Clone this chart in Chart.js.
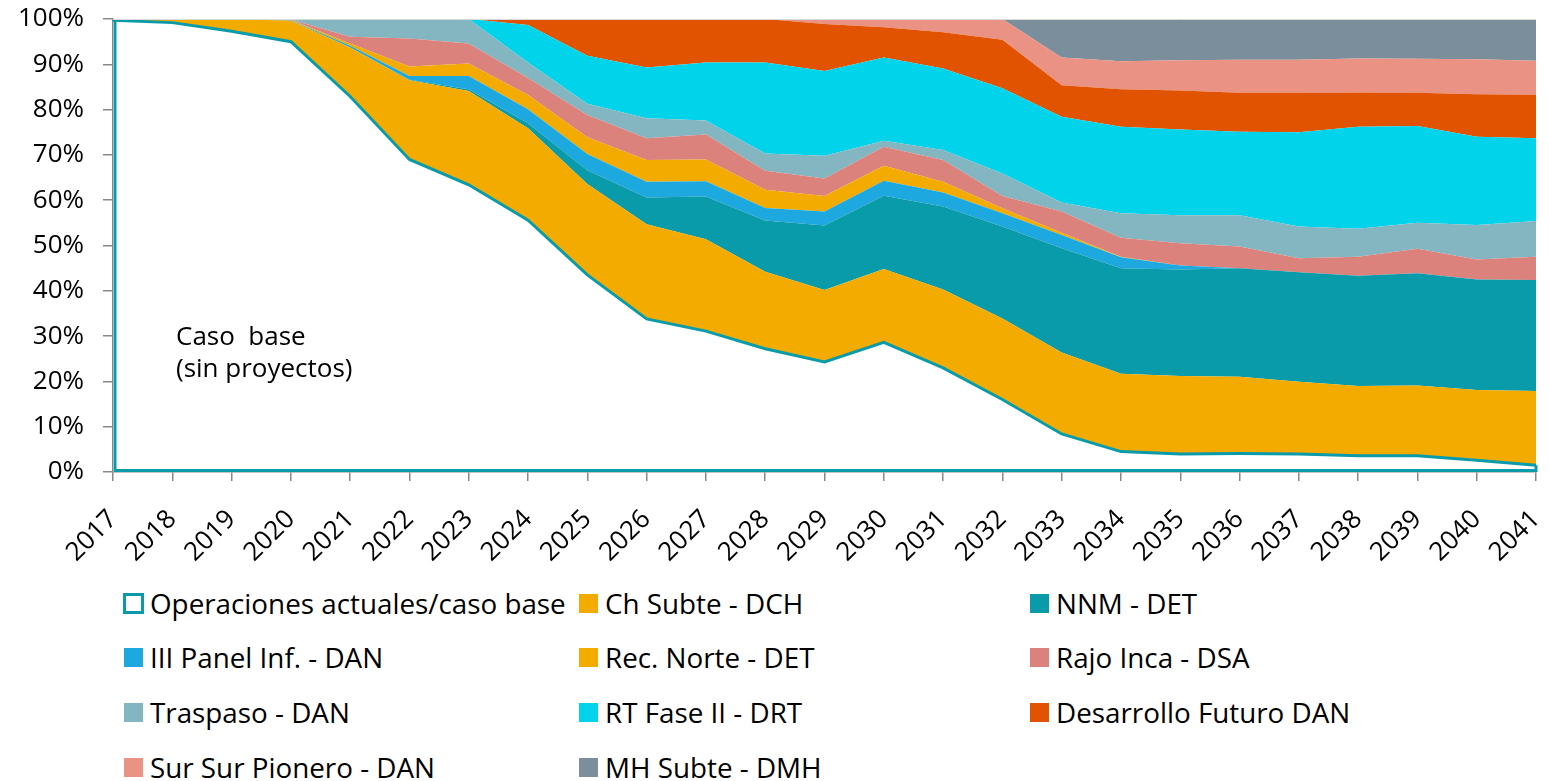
<!DOCTYPE html>
<html>
<head>
<meta charset="utf-8">
<script src="https://cdn.jsdelivr.net/npm/chart.js@4.4.0/dist/chart.umd.min.js"></script>
<style>
html,body{margin:0;padding:0;background:#fff;}
#wrap{position:relative;width:1549px;height:781px;overflow:hidden;font-family:"Open Sans",sans-serif;color:#000;}
#c{position:absolute;left:0;top:0;}
#note{position:absolute;left:176px;top:319px;font-size:26px;line-height:32px;white-space:pre;}
.item{position:absolute;display:flex;align-items:center;height:40px;font-size:27.8px;white-space:nowrap;}
.box{width:19px;height:19px;margin-right:7px;box-sizing:border-box;flex:none;}
</style>
</head>
<body>
<div id="wrap">
<canvas id="c" width="1549" height="575"></canvas>
<div id="note">Caso  base
(sin proyectos)</div>
<div id="legend"></div>
</div>
<script>
const years = ['2017','2018','2019','2020','2021','2022','2023','2024','2025','2026','2027','2028','2029','2030','2031','2032','2033','2034','2035','2036','2037','2038','2039','2040','2041'];
const yTicks = [0,10,20,30,40,50,60,70,80,90,100];

const casoBase   = [99.7,99.2,97.3,95.0,82.9,69.0,63.4,55.6,43.5,33.8,31.1,27.2,24.3,28.6,23.0,16.0,8.4,4.5,4.0,4.1,4.0,3.6,3.6,2.6,1.5];
const chSubte    = [0.3,0.8,2.7,4.6,10.8,17.5,20.7,20.3,20.1,20.9,20.3,17.0,15.9,16.2,17.3,17.9,18.0,17.2,17.2,16.9,15.9,15.4,15.5,15.5,16.4];
const nnm        = [0,0,0,0,0,0.1,0.4,1.1,3.0,5.9,9.4,11.3,14.2,16.2,18.3,20.3,23.0,23.3,23.5,24.0,24.2,24.3,24.8,24.4,24.5];
const panelInf   = [0,0,0,0.1,0.4,0.8,2.9,3.1,3.6,3.5,3.4,2.8,3.1,3.3,3.1,2.9,2.9,2.4,0.9,0,0,0,0,0,0];
const recNorte   = [0,0,0,0.1,0.5,2.1,2.8,3.1,3.7,4.8,4.8,4.0,3.4,3.3,2.4,1.1,0.5,0.1,0,0,0,0,0,0,0];
const rajoInca   = [0,0,0,0.1,1.5,6.2,4.4,3.8,4.9,4.8,5.5,4.2,3.9,4.2,4.8,2.7,4.7,4.2,4.9,4.8,3.1,4.2,5.4,4.4,5.1];
const traspaso   = [0,0,0,0.1,3.9,4.3,5.4,3.4,2.5,4.4,3.1,3.8,5.0,1.3,2.2,5.0,2.0,5.4,6.2,6.9,7.0,6.2,5.7,7.6,7.9];
const rtFase2    = [0,0,0,0,0,0,0,8.3,10.6,11.2,12.8,20.1,18.7,18.4,18.0,18.8,18.9,19.1,18.9,18.4,20.8,22.5,21.4,19.5,18.3];
const desFuturo  = [0,0,0,0,0,0,0,1.3,8.1,10.7,9.6,9.6,10.4,6.7,8.0,10.7,7.0,8.3,8.6,8.6,8.7,7.6,7.3,9.4,9.6];
const surSur     = [0,0,0,0,0,0,0,0,0,0,0,0,1.1,1.8,2.9,4.6,6.1,6.2,6.7,7.3,7.3,7.5,7.5,7.7,7.5];
const mhSubte    = [0,0,0,0,0,0,0,0,0,0,0,0,0,0,0,0,8.5,9.3,9.1,9.0,9.0,8.7,8.8,8.9,9.2];

const seriesNames = ['Operaciones actuales/caso base','Ch Subte - DCH','NNM - DET','III Panel Inf. - DAN','Rec. Norte - DET','Rajo Inca - DSA','Traspaso - DAN','RT Fase II - DRT','Desarrollo Futuro DAN','Sur Sur Pionero - DAN','MH Subte - DMH'];
const seriesData = [casoBase,chSubte,nnm,panelInf,recNorte,rajoInca,traspaso,rtFase2,desFuturo,surSur,mhSubte];
const seriesColors = ['#FFFFFF','#F4AB00','#0A9BAA','#1DA8DF','#F4AB00','#DC827D','#84B6C1','#00D3EA','#E25300','#EA9283','#7A8E9B'];
const TEAL = '#0A9BAA';

const datasets = seriesData.map((d,i)=>({
  label: seriesNames[i],
  data: d,
  backgroundColor: seriesColors[i],
  borderColor: i===0 ? TEAL : 'transparent',
  borderWidth: i===0 ? 3 : 0,
  fill: i===0 ? 'origin' : '-1',
  pointRadius: 0,
  tension: 0
}));

const edgePlugin = {
  id:'edge',
  afterDatasetsDraw(chart){
    const ctx = chart.ctx, xs = chart.scales.x, ys = chart.scales.y, a = chart.chartArea;
    const n = casoBase.length;
    const x0 = xs.getPixelForValue(0), xl = xs.getPixelForValue(n-1);
    const y0 = ys.getPixelForValue(0);
    ctx.save();
    ctx.strokeStyle = '#D9D9D9'; ctx.lineWidth = 1;
    ctx.beginPath(); ctx.moveTo(a.left, a.top+0.5); ctx.lineTo(a.right, a.top+0.5); ctx.stroke();
    ctx.strokeStyle = TEAL; ctx.lineWidth = 3; ctx.lineJoin='miter';
    ctx.beginPath();
    ctx.moveTo(x0+2, ys.getPixelForValue(casoBase[0]));
    ctx.lineTo(x0+2, y0-1.5);
    ctx.lineTo(xl, y0-1.5);
    ctx.lineTo(xl, ys.getPixelForValue(casoBase[n-1]));
    ctx.stroke();
    ctx.restore();
  }
};

new Chart(document.getElementById('c'), {
  type:'line',
  data:{labels:years, datasets},
  options:{
    responsive:false, animation:false,
    layout:{padding:{left:0,right:13,top:19,bottom:0}},
    plugins:{legend:{display:false}, tooltip:{enabled:false}},
    scales:{
      x:{
        type:'category', offset:false,
        grid:{drawOnChartArea:false, drawTicks:true, tickLength:9, color:'#888888', lineWidth:1.5},
        border:{color:'#888888', width:1.5},
        ticks:{autoSkip:false, maxRotation:45, minRotation:45, color:'#000', padding:23, font:{family:'Open Sans', size:26}},
        afterFit(s){ s.height = 575-472; s.paddingLeft = 0; s.paddingRight = 0; }
      },
      y:{
        stacked:true, min:0, max:100,
        afterBuildTicks(s){ s.ticks = yTicks.map(v=>({value:v})); },
        ticks:{color:'#000', padding:19, font:{family:'Open Sans', size:26}, callback:v=>v+'%'},
        grid:{drawOnChartArea:false, drawTicks:true, tickLength:10, color:'#888888', lineWidth:1.5},
        border:{color:'#888888', width:1.5},
        afterFit(s){ s.width = 113; s.paddingTop = 0; s.paddingBottom = 0; }
      }
    }
  },
  plugins:[edgePlugin]
});

// legend (3 columns, row-major)
const colX = [124, 579, 1030];
const rowY = [603, 657, 712, 767];
const leg = document.getElementById('legend');
seriesNames.forEach((name,i)=>{
  const r = Math.floor(i/3), c = i%3;
  const it = document.createElement('div');
  it.className = 'item';
  it.style.left = colX[c]+'px';
  it.style.top = (rowY[r]-20)+'px';
  const b = document.createElement('div');
  b.className = 'box';
  if(i===0){ b.style.background='#fff'; b.style.border='3.5px solid '+TEAL; b.style.width='21px'; b.style.height='21px'; b.style.marginLeft='-1px'; b.style.marginRight='6px'; }
  else b.style.background = seriesColors[i];
  const t = document.createElement('span');
  t.textContent = name;
  it.appendChild(b); it.appendChild(t);
  leg.appendChild(it);
});
</script>
</body>
</html>
